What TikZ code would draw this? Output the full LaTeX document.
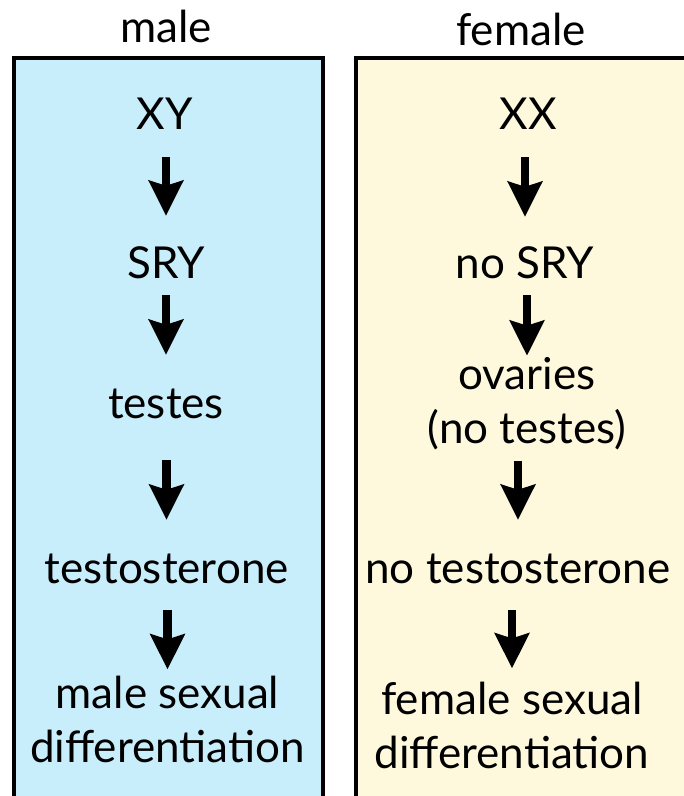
\documentclass[tikz,border=0pt]{standalone}
\usepackage{fontspec}
\setmainfont{Lato}
\usetikzlibrary{arrows.meta}
\definecolor{maleblue}{RGB}{200,238,252}
\definecolor{femaleyellow}{RGB}{254,249,221}

\begin{document}
\begin{tikzpicture}[x=1pt,y=-1pt,
    lbl/.style={inner sep=0pt,anchor=base,font=\fontsize{44}{54}\selectfont},
    one/.style={lbl,text height=32pt,text depth=0pt},
    two/.style={lbl,align=center},
    arr/.style={-{Stealth[length=35pt,width=34pt,inset=5pt]},line width=8.5pt}]
  \useasboundingbox (0,0) rectangle (684,796);
  \clip (0,0) rectangle (684,796);
  % the two columns
  \draw[line width=4.5pt,fill=maleblue] (14,58) rectangle (323,830);
  \draw[line width=4.5pt,fill=femaleyellow] (356,58) rectangle (720,830);
  \node[lbl] (male) at (166,42) {male};
  \node[lbl] (female) at (521,45) {female};
  % male pathway
  \node[one] (xy) at (165,129) {XY};
  \node[one] (sry) at (166,278) {SRY};
  \node[one] (testes) at (166,418) {testes};
  \node[one] (testo) at (166.5,583) {testosterone};
  \node[two] (malediff) at (167.5,762) {male sexual\\differentiation};
  \draw[arr,shorten <=28pt,shorten >=30pt] (sry.north |- xy.south) -- (sry.north);
  \draw[arr,shorten <=17pt,shorten >=31pt] (testes.north |- sry.south) -- (testes.north);
  \draw[arr,shorten <=42pt,shorten >=31pt] (testo.north |- testes.south) -- (testo.north);
  \draw[arr,shorten <=27pt,shorten >=6pt] (malediff.north |- testo.south) -- (malediff.north);
  % female pathway
  \node[one] (xx) at (528,129) {XX};
  \node[one] (nosry) at (525,278) {no SRY};
  \node[two] (ovaries) at (527,443) {ovaries\\(no testes)};
  \node[one] (notesto) at (518,583) {no testosterone};
  \node[two] (femdiff) at (512,768) {female sexual\\differentiation};
  \draw[arr,shorten <=28pt,shorten >=29pt] (nosry.north |- xx.south) -- (nosry.north);
  \draw[arr,shorten <=17pt,shorten >=1pt] (ovaries.north |- nosry.south) -- (ovaries.north);
  \draw[arr,shorten <=11pt,shorten >=31pt] (notesto.north |- ovaries.south) -- (notesto.north);
  \draw[arr,shorten <=27pt,shorten >=13pt] (femdiff.north |- notesto.south) -- (femdiff.north);
\end{tikzpicture}
\end{document}
